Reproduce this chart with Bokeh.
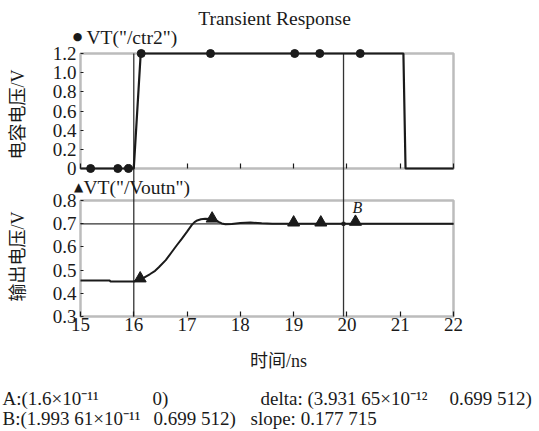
import math
from bokeh.plotting import figure
from bokeh.models import Range1d, LinearAxis, FixedTicker, BoxAnnotation, Label
from bokeh.embed import file_html
from bokeh.resources import INLINE

# ---------------- data ----------------
x_ticks = [15, 16, 17, 18, 19, 20, 21, 22]
top_ticks = [0.0, 0.2, 0.4, 0.6, 0.8, 1.0, 1.2]
top_tick_labels = ["0", "0.2", "0.4", "0.6", "0.8", "1.0", "1.2"]
bot_ticks = [0.3, 0.4, 0.5, 0.6, 0.7, 0.8]
bot_tick_labels = ["0.3", "0.4", "0.5", "0.6", "0.7", "0.8"]

# VT("/ctr2") (ns, V)
ctr2_t = [15.0, 16.0, 16.13, 21.06, 21.10, 22.0]
ctr2_v = [0.0, 0.0, 1.2, 1.2, 0.0, 0.0]
ctr2_mark_t = [15.19, 15.70, 15.90, 16.14, 17.44, 19.02, 19.49, 20.25]
ctr2_mark_v = [0.0, 0.0, 0.0, 1.2, 1.2, 1.2, 1.2, 1.2]

# VT("/Voutn") (ns, V)
vout_t = [15.0, 15.55, 15.56, 16.0, 16.05, 16.12, 16.2, 16.3, 16.4, 16.47, 16.6, 16.71,
          16.8, 16.9, 17.0, 17.09, 17.14, 17.19, 17.26, 17.34, 17.45, 17.53, 17.6, 17.65,
          17.72, 17.84, 18.0, 18.19, 18.4, 18.6, 19.0, 19.94, 21.0, 22.0]
vout_v = [0.455, 0.455, 0.451, 0.451, 0.455, 0.460, 0.469, 0.482, 0.497, 0.512, 0.543, 0.577,
          0.605, 0.635, 0.666, 0.695, 0.707, 0.714, 0.719, 0.721, 0.720, 0.716, 0.707, 0.701,
          0.698, 0.699, 0.703, 0.705, 0.702, 0.700, 0.6995, 0.6995, 0.6995, 0.6995]
vout_mark_t = [16.12, 17.47, 19.00, 19.51, 20.16]
vout_mark_v = [0.464, 0.722, 0.705, 0.705, 0.708]

cursor_a_t, cursor_a_v = 16.0, 0.0
cursor_b_t, cursor_b_v = 19.9361, 0.699512

title_text = "Transient Response"
top_ylabel = "电容电压/V"
bot_ylabel = "输出电压/V"
xlabel = "时间/ns"
legend_top = 'VT("/ctr2")'
legend_bot = 'VT("/Voutn")'
info_lines = [
    ("A:(1.6×10⁻¹¹", "0)", "delta: (3.931 65×10⁻¹²", "0.699  512)"),
    ("B:(1.993 61×10⁻¹¹", "0.699  512)", "slope: 0.177 715", ""),
]

# ---------------- layout (page pixels) ----------------
W, H = 539, 431
X0_PX, X1_PX = 80, 453      # page x of 15 and 22
TOP_0, TOP_1 = 168, 53      # page y of 0 and 1.2 in upper panel
BOT_0, BOT_1 = 316, 200     # page y of 0.3 and 0.8 in lower panel

per_x = (x_ticks[-1] - x_ticks[0]) / (X1_PX - X0_PX)
x_start = x_ticks[0] - X0_PX * per_x
x_end = x_ticks[-1] + (W - X1_PX) * per_x
per_b = (bot_ticks[-1] - bot_ticks[0]) / (BOT_0 - BOT_1)
b_start = bot_ticks[0] - (H - BOT_0) * per_b
b_end = bot_ticks[-1] + BOT_1 * per_b
per_t = (top_ticks[-1] - top_ticks[0]) / (TOP_0 - TOP_1)
t_start = top_ticks[0] - (H - TOP_0) * per_t
t_end = top_ticks[-1] + TOP_1 * per_t
cursor_top_in_b = bot_ticks[-1] + (BOT_1 - TOP_1) * per_b

SERIF = "Liberation Serif"
CJK = "Liberation Serif, Noto Sans CJK SC"
INK = "#1a1a1a"

p = figure(width=W, height=H, x_range=Range1d(x_start, x_end), y_range=Range1d(b_start, b_end),
           x_axis_location=None, y_axis_location=None,
           output_backend="svg", toolbar_location=None,
           min_border_left=0, min_border_right=0, min_border_top=0, min_border_bottom=0)
p.extra_y_ranges = {"top": Range1d(t_start, t_end)}
p.outline_line_color = None
p.grid.visible = False
p.background_fill_color = "white"
p.border_fill_color = "white"


def make_axis(side, ticks, labels, tick_in, fixed, range_name="default", standoff=3, size=19):
    ax = LinearAxis(y_range_name=range_name, fixed_location=fixed)
    ax.ticker = FixedTicker(ticks=ticks)
    ax.major_label_overrides = {t: l for t, l in zip(ticks, labels)}
    ax.axis_line_color = None
    ax.major_tick_in = tick_in
    ax.major_tick_out = 0
    ax.minor_tick_in = 0
    ax.minor_tick_out = 0
    ax.major_tick_line_color = INK
    ax.major_tick_line_width = 1.2
    ax.major_label_text_font = SERIF
    ax.major_label_text_font_size = f"{size}px"
    ax.major_label_text_color = INK
    ax.major_label_standoff = standoff
    p.add_layout(ax, side)
    return ax


# lower panel axes
make_axis("below", x_ticks, [str(t) for t in x_ticks], 5, bot_ticks[0], standoff=1)
make_axis("left", bot_ticks, bot_tick_labels, 3, x_ticks[0], standoff=4)
# upper panel axes
make_axis("left", top_ticks, top_tick_labels, 3, x_ticks[0], range_name="top", standoff=4)
make_axis("below", x_ticks, ["" for t in x_ticks], 5, top_ticks[0], range_name="top", standoff=0, size=1)

# panel borders
p.add_layout(BoxAnnotation(left=x_ticks[0], right=x_ticks[-1], bottom=top_ticks[0], top=top_ticks[-1],
                           y_range_name="top", fill_alpha=0, line_color="#222222", line_width=2.5))
p.add_layout(BoxAnnotation(left=x_ticks[0], right=x_ticks[-1], bottom=bot_ticks[0], top=bot_ticks[-1],
                           fill_alpha=0, line_color="#222222", line_width=2.5))

# cursors
p.segment(x0=[cursor_a_t, cursor_b_t], y0=[bot_ticks[0], bot_ticks[0]], x1=[cursor_a_t, cursor_b_t],
          y1=[cursor_top_in_b, cursor_top_in_b], line_color="#333333", line_width=1.3)
p.segment(x0=[x_ticks[0]], y0=[cursor_b_v], x1=[x_ticks[-1]], y1=[cursor_b_v],
          line_color="#333333", line_width=1.3)

# series
p.line(ctr2_t, ctr2_v, y_range_name="top", line_color=INK, line_width=2.2)
p.scatter(ctr2_mark_t, ctr2_mark_v, y_range_name="top", marker="circle", size=8,
          fill_color=INK, line_color=INK)
p.line(vout_t, vout_v, line_color=INK, line_width=2.0)
p.scatter(vout_mark_t, vout_mark_v, marker="triangle", size=12, fill_color=INK, line_color=INK)
p.scatter([cursor_b_t], [cursor_b_v], marker="square", size=3, fill_color=None, line_color=INK)


def lab(text, X, Y, size, align="left", baseline="middle", angle=0.0, font=SERIF, style="normal"):
    p.add_layout(Label(x=X, y=H - Y, x_units="screen", y_units="screen", text=text,
                       text_font=font, text_font_size=f"{size}px", text_align=align,
                       text_baseline=baseline, angle=angle, text_color=INK, text_font_style=style))


lab(title_text, 274, 18, 19.5, align="center")
lab("●", 77, 36, 11, align="center", font="DejaVu Sans")
lab(legend_top, 86, 37, 19.5)
lab("▲", 78, 186, 12, align="center", font="DejaVu Sans")
lab(legend_bot, 83, 187, 19.5)
lab(top_ylabel, 17, 114, 18, align="center", angle=math.pi / 2, font=CJK)
lab(bot_ylabel, 17, 256, 18, align="center", angle=math.pi / 2, font=CJK)
lab(xlabel, 278, 360, 18, align="center", font=CJK)
lab("B", 357, 207, 16, align="center", style="italic")

line_y = [398, 418]
line_pos = [((2, "left"), (152, "left"), (260, "left"), (536, "right")),
            ((2, "left"), (240, "right"), (250, "left"), (0, "left"))]
for texts, poss, yy in zip(info_lines, line_pos, line_y):
    for t, (xx, al) in zip(texts, poss):
        if t:
            lab(t, xx, yy, 19, align=al, baseline="alphabetic")

open("out.html", "w").write(file_html(p, INLINE))
